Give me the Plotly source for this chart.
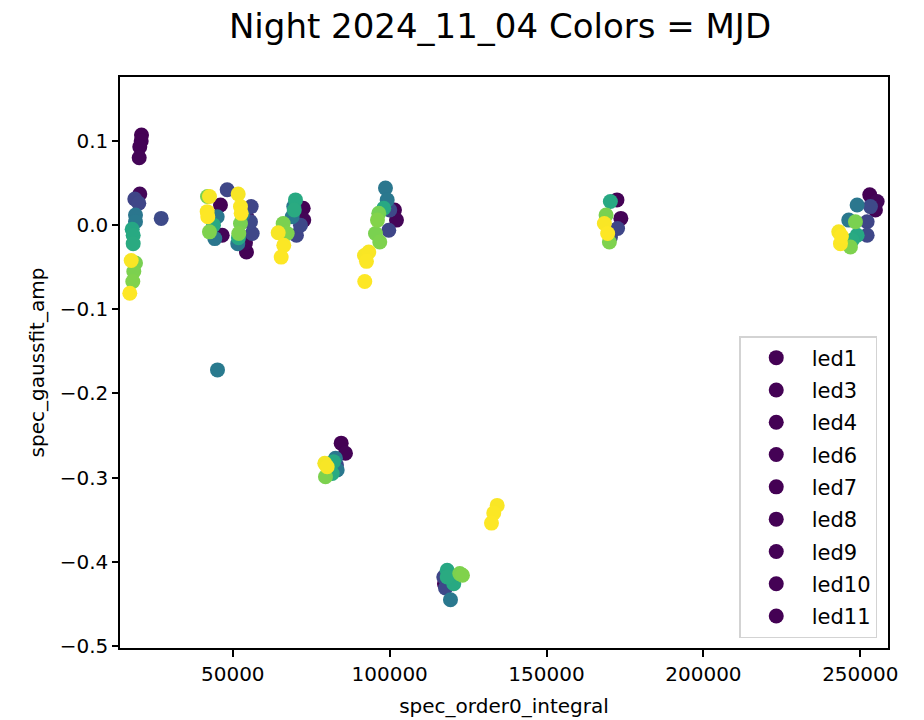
import plotly.graph_objects as go

# LED labels, in plotting order
led_names = ["led1", "led3", "led4", "led6", "led7", "led8", "led9", "led10", "led11"]

# spec_order0_integral for each LED (points ordered by MJD)
integral = [
    [20903, 20807, 20361, 20170, 20361, 18767, 20042, 27181, 18990, 18990,
     17938, 18258, 18258, 18990, 18449, 18130, 17620, 17174],
    [46080, 46622, 48215, 44263, 45028, 45124, 43849, 41937, 42574, 42574,
     41841, 42033],
    [54366, 54685, 54048, 55864, 56183, 55641, 51594, 53091, 51816, 52454,
     51912, 51721, 52454, 52677],
    [72436, 72628, 70301, 71576, 69441, 68931, 69982, 69600, 66062, 67337,
     64469, 66254, 65425],
    [84547, 85917, 83049, 82730, 83272, 82093, 81679, 79543, 79321, 80085,
     134264, 133180, 132447],
    [101534, 102171, 99717, 100036, 98665, 99207, 98123, 96530, 95478, 96849,
     96116, 91973, 93343, 92610, 92068],
    [117469, 117246, 117788, 119382, 118329, 120433, 118329, 122346, 123207],
    [172445, 173688, 172636, 170373, 170342, 168971, 170022, 168429, 169481],
    [253007, 254824, 255365, 252180, 252180, 253232, 248992, 246315, 248992,
     247399, 248451, 246857, 243129, 243671, 243990],
]

# spec_gaussfit_amp for each LED
amp = [
    [0.107, 0.100, 0.093, 0.080, 0.037, 0.031, 0.026, 0.008, 0.012, 0.004,
     -0.005, -0.012, -0.022, -0.045, -0.055, -0.067, -0.042, -0.081],
    [0.024, -0.012, 0.042, -0.016, 0.010, -0.172, 0.000, 0.034, -0.008, 0.034,
     0.016, 0.010],
    [-0.032, 0.008, -0.021, 0.022, -0.010, 0.004, -0.022, 0.012, -0.015, 0.002,
     -0.010, 0.037, 0.022, 0.014],
    [0.020, 0.006, -0.012, 0.000, 0.022, 0.010, 0.030, 0.018, 0.002, -0.010,
     -0.009, -0.024, -0.038],
    [-0.259, -0.271, -0.285, -0.277, -0.291, -0.281, -0.295, -0.299, -0.283, -0.287,
     -0.333, -0.342, -0.354],
    [0.018, 0.006, -0.006, 0.018, 0.044, 0.030, 0.020, 0.014, -0.010, -0.020,
     0.006, -0.036, -0.032, -0.043, -0.067],
    [-0.426, -0.418, -0.431, -0.445, -0.410, -0.426, -0.418, -0.414, -0.416],
    [0.030, 0.008, -0.004, -0.014, 0.028, 0.012, -0.020, 0.002, -0.010],
    [0.036, 0.018, 0.028, 0.004, -0.012, 0.022, 0.024, 0.006, -0.012, -0.018,
     0.004, -0.026, -0.008, -0.022, -0.013],
]

# observation time (MJD) of each point, used for the colour
mjd = [
    [60619.050, 60619.051, 60619.052, 60619.053, 60619.054, 60619.112, 60619.114,
     60619.118, 60619.168, 60619.171, 60619.228, 60619.231, 60619.233, 60619.288,
     60619.290, 60619.292, 60619.348, 60619.350],
    [60619.051, 60619.053, 60619.115, 60619.168, 60619.170, 60619.173, 60619.230,
     60619.288, 60619.291, 60619.347, 60619.349, 60619.350],
    [60619.050, 60619.052, 60619.054, 60619.113, 60619.115, 60619.117, 60619.168,
     60619.171, 60619.229, 60619.288, 60619.291, 60619.347, 60619.349, 60619.350],
    [60619.051, 60619.053, 60619.114, 60619.116, 60619.169, 60619.171, 60619.231,
     60619.233, 60619.289, 60619.291, 60619.347, 60619.349, 60619.350],
    [60619.050, 60619.052, 60619.115, 60619.169, 60619.171, 60619.229, 60619.232,
     60619.290, 60619.346, 60619.347, 60619.348, 60619.349, 60619.350],
    [60619.051, 60619.053, 60619.114, 60619.116, 60619.169, 60619.171, 60619.230,
     60619.287, 60619.289, 60619.291, 60619.293, 60619.347, 60619.348, 60619.349,
     60619.350],
    [60619.051, 60619.114, 60619.116, 60619.170, 60619.229, 60619.231, 60619.233,
     60619.290, 60619.292],
    [60619.051, 60619.053, 60619.114, 60619.116, 60619.230, 60619.289, 60619.291,
     60619.348, 60619.350],
    [60619.050, 60619.052, 60619.054, 60619.113, 60619.115, 60619.117, 60619.169,
     60619.171, 60619.229, 60619.232, 60619.289, 60619.291, 60619.347, 60619.349,
     60619.350],
]

MJD_MIN, MJD_MAX = 60619.05, 60619.35

fig = go.Figure()
for name, xs, ys, cs in zip(led_names, integral, amp, mjd):
    fig.add_trace(go.Scatter(
        x=xs, y=ys, mode="markers", name=name, legendgroup=name,
        marker=dict(size=15, color=cs, colorscale="Viridis",
                    cmin=MJD_MIN, cmax=MJD_MAX, line=dict(width=0)),
    ))

axis_common = dict(
    showline=True, linecolor="black", linewidth=1.5, mirror=True,
    ticks="outside", tickwidth=1.5, tickcolor="black",
    showgrid=False, zeroline=False, automargin=False,
    tickfont=dict(family="DejaVu Sans", size=20, color="black"),
)

fig.update_layout(
    width=924, height=720,
    margin=dict(l=120, r=36, t=77, b=72),
    paper_bgcolor="white", plot_bgcolor="white",
    font=dict(family="DejaVu Sans", size=20, color="black"),
    title=dict(text="Night 2024_11_04 Colors = MJD",
               font=dict(family="DejaVu Sans", size=34, color="black"),
               x=500 / 924, xref="container", xanchor="center",
               y=1 - 26 / 720, yref="container", yanchor="middle"),
    xaxis=dict(range=[14054, 258827], tick0=0, dtick=50000, tickformat="d",
               ticklen=7,
               title=dict(text="spec_order0_integral", standoff=14,
                          font=dict(family="DejaVu Sans", size=20)),
               **axis_common),
    yaxis=dict(range=[-0.5024, 0.176], tick0=0, dtick=0.1, tickformat=".1f",
               ticklen=6,
               title=dict(text="spec_gaussfit_amp", standoff=10,
                          font=dict(family="DejaVu Sans", size=20)),
               **axis_common),
    legend=dict(x=0.986, y=0.0175, xanchor="right", yanchor="bottom",
                bgcolor="rgba(255,255,255,0.8)", bordercolor="#d3d3d3",
                borderwidth=1.5, font=dict(family="DejaVu Sans", size=21),
                traceorder="grouped", tracegroupgap=2, itemwidth=61),
)

fig.write_html("out.html")
